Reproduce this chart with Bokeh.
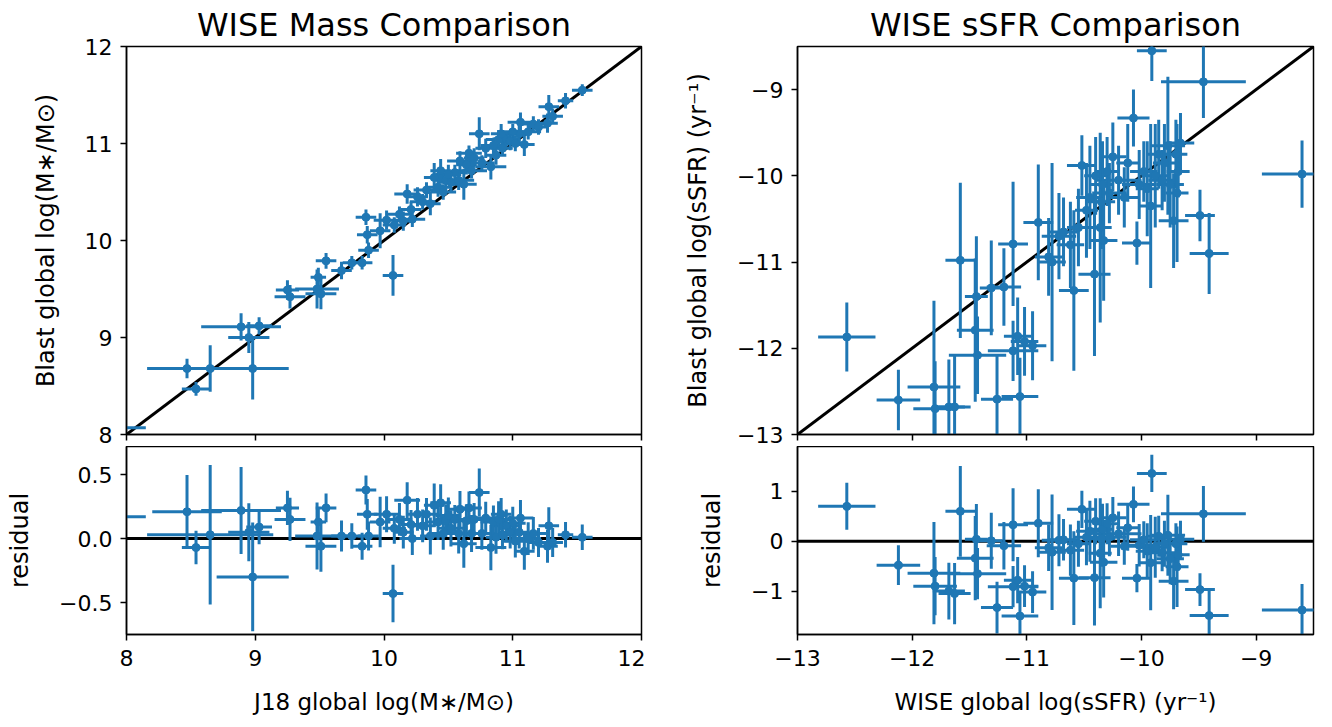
import numpy as np
from bokeh.plotting import figure
from bokeh.layouts import row, column
from bokeh.models import (ColumnDataSource, FixedTicker, CustomJSTickFormatter,
                          Slope, Span, Range1d)
from bokeh.embed import file_html
from bokeh.resources import INLINE

# ---------------- data: WISE mass comparison ----------------
mass_j18 = [7.90, 8.47, 8.54, 8.65, 8.98, 8.89, 8.95, 9.03, 9.25, 9.27, 9.48, 9.51,
            9.49, 9.55, 9.67, 9.75, 9.83, 9.88, 9.87, 9.86, 10.07, 9.97, 10.02, 10.08,
            10.12, 10.15, 10.18, 10.21, 10.26, 10.30, 10.36, 10.39, 10.42, 10.44, 10.46,
            10.48, 10.52, 10.55, 10.59, 10.62, 10.64, 10.66, 10.70, 10.74, 10.76, 10.79,
            10.83, 10.85, 10.87, 10.89, 10.92, 10.95, 10.98, 11.02, 11.05, 11.06, 11.09,
            11.12, 11.16, 11.20, 11.27, 11.28, 11.31, 11.41, 11.54, 10.33, 10.50, 10.68,
            10.91, 11.00, 10.22, 10.58]
mass_blast = [8.07, 8.68, 8.47, 8.68, 8.68, 9.11, 9.00, 9.12, 9.49, 9.42, 9.50, 9.45,
              9.62, 9.79, 9.69, 9.77, 9.77, 9.90, 10.06, 10.24, 9.64, 10.10, 10.21, 10.16,
              10.27, 10.20, 10.48, 10.32, 10.45, 10.40, 10.38, 10.65, 10.55, 10.72, 10.50,
              10.62, 10.60, 10.70, 10.82, 10.58, 10.78, 10.90, 10.85, 11.10, 10.80, 10.95,
              10.76, 10.98, 10.88, 11.04, 10.95, 11.05, 11.03, 11.00, 11.10, 11.22, 10.99,
              11.12, 11.20, 11.17, 11.21, 11.38, 11.28, 11.44, 11.55, 10.52, 10.68, 10.72,
              11.10, 11.12, 10.22, 10.62]
mass_j18_err = [0.25, 0.27, 0.11, 0.49, 0.28, 0.31, 0.16, 0.10, 0.09, 0.12, 0.17, 0.12,
                0.06, 0.08, 0.08, 0.07, 0.08, 0.08, 0.08, 0.08, 0.08, 0.08, 0.10, 0.09,
                0.10, 0.08, 0.10, 0.08, 0.08, 0.10, 0.08, 0.08, 0.10, 0.08, 0.10,
                0.08, 0.10, 0.08, 0.10, 0.10, 0.08, 0.10, 0.08, 0.08, 0.10, 0.08,
                0.12, 0.10, 0.08, 0.10, 0.08, 0.10, 0.08, 0.10, 0.08, 0.10, 0.08,
                0.10, 0.10, 0.08, 0.08, 0.08, 0.08, 0.06, 0.08, 0.10, 0.10, 0.12,
                0.08, 0.10, 0.10, 0.12]
mass_blast_err = [0.05, 0.10, 0.07, 0.24, 0.32, 0.14, 0.16, 0.09, 0.10, 0.12, 0.20, 0.16,
                  0.10, 0.08, 0.09, 0.07, 0.07, 0.08, 0.09, 0.08, 0.21, 0.18, 0.10, 0.08,
                  0.08, 0.10, 0.10, 0.08, 0.10, 0.08, 0.12, 0.15, 0.10, 0.12, 0.08,
                  0.10, 0.10, 0.08, 0.10, 0.16, 0.10, 0.08, 0.10, 0.17, 0.08, 0.10,
                  0.13, 0.08, 0.10, 0.10, 0.08, 0.08, 0.10, 0.08, 0.10, 0.10, 0.12,
                  0.08, 0.08, 0.08, 0.10, 0.12, 0.08, 0.08, 0.06, 0.08, 0.10, 0.08,
                  0.10, 0.08, 0.08, 0.10]

# ---------------- data: WISE sSFR comparison ----------------
ssfr_wise = [-12.57, -12.12, -11.81, -11.80, -11.68, -11.63, -11.58, -11.45, -11.43, -11.44,
             -11.31, -11.26, -11.20, -11.12, -11.12, -11.06, -11.08, -11.02, -10.95, -10.90,
             -10.81, -10.78, -10.72, -10.68, -10.62, -10.59, -10.55, -10.52, -10.48, -10.45,
             -10.41, -10.40, -10.36, -10.35, -10.34, -10.33, -10.30, -10.28, -10.25, -10.20,
             -10.15, -10.12, -10.07, -10.04, -10.02, -9.98, -9.95, -9.92, -9.91, -9.88,
             -9.85, -9.82, -9.80, -9.77, -9.75, -9.72, -9.70, -9.69, -9.68, -9.66,
             -9.49, -9.41, -9.46, -8.60]
ssfr_blast = [-11.87, -12.60, -12.45, -12.70, -12.68, -12.68, -10.98, -11.79, -12.08, -11.40,
              -11.30, -12.59, -11.29, -10.79, -12.03, -12.56, -11.86, -11.92, -11.97, -10.54,
              -10.94, -11.00, -10.70, -10.65, -10.80, -11.33, -10.60, -9.88, -10.40, -10.25,
              -11.14, -10.00, -10.60, -10.30, -10.10, -10.75, -9.95, -10.20, -9.78, -10.05,
              -10.25, -9.85, -9.33, -10.78, -10.10, -9.95, -10.15, -10.35, -8.55, -10.00,
              -9.75, -10.05, -9.85, -9.65, -10.10, -10.52, -9.75, -10.20, -9.95, -9.62,
              -10.46, -10.90, -8.91, -9.98]
ssfr_wise_err = [0.25, 0.19, 0.23, 0.19, 0.14, 0.14, 0.13, 0.16, 0.25, 0.10,
                 0.10, 0.14, 0.15, 0.13, 0.22, 0.16, 0.12, 0.12, 0.12, 0.13,
                 0.12, 0.12, 0.15, 0.12, 0.12, 0.13, 0.10, 0.13, 0.10, 0.12,
                 0.14, 0.10, 0.10, 0.12, 0.10, 0.12, 0.10, 0.15, 0.12, 0.20,
                 0.12, 0.10, 0.14, 0.13, 0.15, 0.12, 0.10, 0.10, 0.13, 0.12,
                 0.10, 0.12, 0.10, 0.15, 0.12, 0.13, 0.10, 0.10, 0.10, 0.12,
                 0.13, 0.17, 0.37, 0.35]
ssfr_blast_err = [0.40, 0.35, 1.00, 0.55, 0.55, 0.60, 0.90, 0.83, 0.45, 0.70,
                  0.55, 0.50, 0.45, 0.72, 0.35, 0.45, 0.45, 0.40, 0.40, 0.67,
                  0.45, 1.15, 0.50, 0.40, 0.50, 0.93, 0.45, 0.35, 0.55, 0.60,
                  0.95, 0.45, 1.10, 0.55, 0.50, 0.70, 0.40, 0.35, 0.40, 0.40,
                  0.35, 0.45, 0.33, 0.25, 0.40, 0.35, 0.55, 0.95, 0.35, 0.60,
                  0.40, 0.35, 0.45, 0.80, 0.50, 0.55, 0.40, 0.80, 0.30, 0.35,
                  0.30, 0.47, 0.42, 0.39]

mass_ticks = [8, 9, 10, 11, 12]
mass_res_ticks = [-0.5, 0.0, 0.5]
ssfr_ticks = [-13, -12, -11, -10, -9]
ssfr_res_ticks = [-1, 0, 1]

BLUE = "#1f77b4"
FONT = "DejaVu Sans"
TICK_PX = "22px"
XLABEL_PX = "23px"
YLABEL_PX = "24px"
TITLE_PX = "32px"


def fmt(decimals):
    return CustomJSTickFormatter(code=f"""
        var s = Math.abs(tick).toFixed({decimals});
        return (tick < -1e-9 ? '\\u2212' : '') + s;
    """)


def make_fig(width, height, xr, yr, bl, bt, bb, br, title=None):
    p = figure(width=width, height=height, x_range=Range1d(*xr), y_range=Range1d(*yr),
               output_backend="svg", toolbar_location=None, title=title,
               min_border_left=bl, min_border_top=bt, min_border_bottom=bb,
               min_border_right=br)
    p.grid.visible = False
    p.outline_line_color = "black"
    p.outline_line_width = 1.5
    p.outline_line_alpha = 1.0
    p.background_fill_color = "white"
    p.border_fill_color = "white"
    for ax in (p.xaxis, p.yaxis):
        ax.axis_line_color = "black"
        ax.axis_line_width = 1.5
        ax.major_tick_line_color = "black"
        ax.major_tick_line_width = 1.5
        ax.major_tick_out = 6
        ax.major_tick_in = 0
        ax.minor_tick_line_color = None
        ax.major_label_text_font = FONT
        ax.major_label_text_font_size = TICK_PX
        ax.major_label_text_color = "black"
        ax.axis_label_text_font = FONT
        ax.axis_label_text_font_style = "normal"
        ax.axis_label_text_color = "black"
    p.xaxis.axis_label_text_font_size = XLABEL_PX
    p.yaxis.axis_label_text_font_size = YLABEL_PX
    p.yaxis.major_label_standoff = 8
    p.yaxis.axis_label_standoff = 22
    p.xaxis.major_label_standoff = 9
    p.xaxis.axis_label_standoff = 20
    if title:
        p.title.text_font = FONT
        p.title.text_font_size = TITLE_PX
        p.title.text_font_style = "normal"
        p.title.align = "center"
        p.title.text_color = "black"
        p.title.standoff = 5
    return p


def hide_xlabels(p):
    # tick marks only (as in the reference), no tick labels
    p.xaxis.major_label_text_color = None
    p.xaxis.major_label_text_font_size = "1px"
    p.xaxis.major_label_standoff = 0


def errorbars(p, x, y, xe, ye):
    x = np.asarray(x, float); y = np.asarray(y, float)
    xe = np.asarray(xe, float); ye = np.asarray(ye, float)
    src = ColumnDataSource(dict(x=x, y=y, xl=x - xe, xh=x + xe, yl=y - ye, yh=y + ye))
    p.segment(x0="xl", y0="y", x1="xh", y1="y", source=src, line_color=BLUE, line_width=3)
    p.segment(x0="x", y0="yl", x1="x", y1="yh", source=src, line_color=BLUE, line_width=3)
    p.scatter(x="x", y="y", source=src, size=8, fill_color=BLUE, line_color=BLUE)


# ---------------- left column ----------------
p1 = make_fig(645, 446, (8, 12), (8, 12), 126, 46, 12, 4, "WISE Mass Comparison")
p1.add_layout(Slope(gradient=1, y_intercept=0, line_color="black", line_width=3, level="underlay"))
errorbars(p1, mass_j18, mass_blast, mass_j18_err, mass_blast_err)
p1.xaxis.ticker = FixedTicker(ticks=mass_ticks)
p1.yaxis.ticker = FixedTicker(ticks=mass_ticks)
p1.yaxis.formatter = fmt(0)
hide_xlabels(p1)
p1.yaxis.axis_label = "Blast global log(M\u2217/M\u2299)"

mres = np.array(mass_blast) - np.array(mass_j18)
mres_err = np.hypot(mass_j18_err, mass_blast_err)
p2 = make_fig(645, 281, (8, 12), (-0.75, 0.72), 126, 0, 93, 4)
p2.add_layout(Span(location=0, dimension="width", line_color="black", line_width=3, level="underlay"))
errorbars(p2, mass_j18, mres, mass_j18_err, mres_err)
p2.xaxis.ticker = FixedTicker(ticks=mass_ticks)
p2.yaxis.ticker = FixedTicker(ticks=mass_res_ticks)
p2.xaxis.formatter = fmt(0)
p2.yaxis.formatter = fmt(1)
p2.xaxis.axis_label = "J18 global log(M\u2217/M\u2299)"
p2.yaxis.axis_label = "residual"

# ---------------- right column ----------------
p3 = make_fig(687, 446, (-13, -8.5), (-13, -8.5), 152, 46, 12, 19, "WISE sSFR Comparison")
p3.add_layout(Slope(gradient=1, y_intercept=0, line_color="black", line_width=3, level="underlay"))
errorbars(p3, ssfr_wise, ssfr_blast, ssfr_wise_err, ssfr_blast_err)
p3.xaxis.ticker = FixedTicker(ticks=ssfr_ticks)
p3.yaxis.ticker = FixedTicker(ticks=ssfr_ticks)
p3.yaxis.formatter = fmt(0)
hide_xlabels(p3)
p3.yaxis.axis_label = "Blast global log(sSFR) (yr\u207b\u00b9)"

sres = np.array(ssfr_blast) - np.array(ssfr_wise)
sres_err = np.hypot(ssfr_wise_err, ssfr_blast_err)
p4 = make_fig(687, 281, (-13, -8.5), (-1.87, 1.9), 152, 0, 93, 19)
p4.add_layout(Span(location=0, dimension="width", line_color="black", line_width=3, level="underlay"))
errorbars(p4, ssfr_wise, sres, ssfr_wise_err, sres_err)
p4.xaxis.ticker = FixedTicker(ticks=ssfr_ticks)
p4.yaxis.ticker = FixedTicker(ticks=ssfr_res_ticks)
p4.xaxis.formatter = fmt(0)
p4.yaxis.formatter = fmt(0)
p4.xaxis.axis_label = "WISE global log(sSFR) (yr\u207b\u00b9)"
p4.yaxis.axis_label = "residual"

layout = row(column(p1, p2, spacing=0), column(p3, p4, spacing=0), spacing=0)

with open("out.html", "w") as f:
    f.write(file_html(layout, INLINE, title="WISE comparison"))
